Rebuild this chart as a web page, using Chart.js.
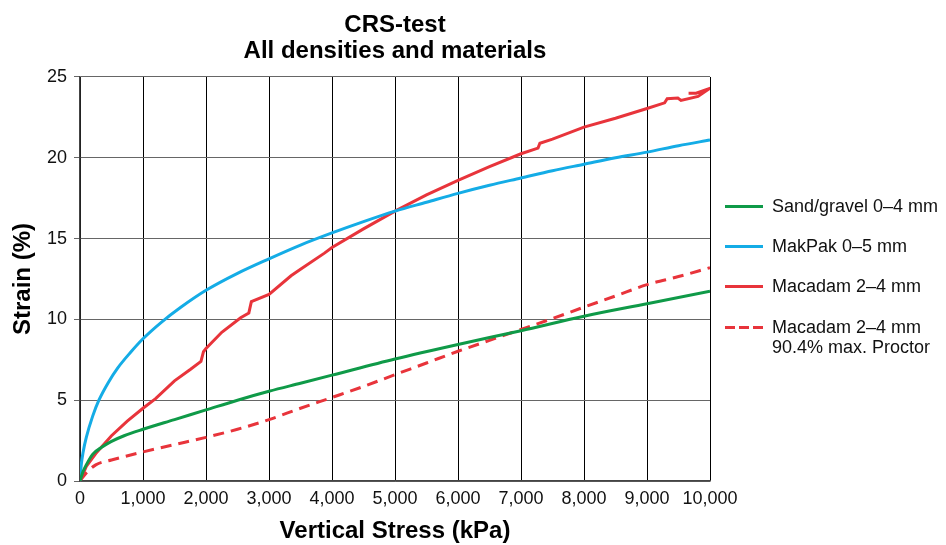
<!DOCTYPE html>
<html>
<head>
<meta charset="utf-8">
<script src="https://cdn.jsdelivr.net/npm/chart.js@4/dist/chart.umd.min.js"></script>
<style>
  html, body { margin: 0; padding: 0; background: #fff; }
  #wrap { position: relative; width: 946px; height: 545px; font-family: "Liberation Sans", Arial, sans-serif; }
  #grafico { position: absolute; left: 0; top: 0; }
  .leyenda-item { position: absolute; left: 725px; display: flex; align-items: flex-start; font-size: 18px; line-height: 20.7px; color: #111; white-space: nowrap; }
  .muestra { width: 38px; height: 3px; margin-top: 9px; margin-right: 9px; flex: none; }
</style>
</head>
<body>
<div id="wrap">
  <canvas id="grafico" width="946" height="545"></canvas>
</div>
<script>
// Datos (tensión vertical kPa -> deformación %)
const arenaStress = [0, 50, 100, 200, 350, 500, 700, 1000, 1500, 2000, 2500, 3000, 3500, 4000, 5000, 6000, 7000, 8000, 9000, 10000]
const arenaStrain = [0, 0.6, 1.0, 1.65, 2.1, 2.45, 2.8, 3.2, 3.8, 4.4, 5.0, 5.55, 6.05, 6.55, 7.55, 8.45, 9.3, 10.2, 10.97, 11.74]

const makpakStress = [0, 20, 50, 100, 200, 300, 450, 600, 800, 1000, 1300, 1600, 2000, 2500, 3000, 3500, 4000, 4500, 5000, 5500, 6000, 6500, 7000, 7500, 8000, 8500, 9000, 9500, 10000]
const makpakStrain = [0, 1.0, 1.8, 2.7, 4.0, 5.0, 6.1, 7.0, 7.95, 8.8, 9.85, 10.75, 11.8, 12.85, 13.75, 14.6, 15.35, 16.05, 16.7, 17.25, 17.8, 18.3, 18.75, 19.2, 19.6, 20.0, 20.35, 20.75, 21.1]

const macadamStress = [0, 100, 250, 500, 750, 1000, 1200, 1500, 1750, 1920, 1960, 2000, 2250, 2550, 2680, 2720, 3000, 3350, 3500, 3880, 4000, 4500, 5000, 5500, 6000, 6500, 7000, 7270, 7300, 7500, 8000, 8500, 9000, 9280, 9320, 9490, 9540, 9810, 10000, 9780, 9660]
const macadamStrain = [0, 0.9, 1.7, 2.8, 3.7, 4.5, 5.1, 6.2, 6.9, 7.4, 8.0, 8.2, 9.2, 10.1, 10.4, 11.1, 11.55, 12.7, 13.1, 14.1, 14.45, 15.6, 16.7, 17.7, 18.6, 19.45, 20.25, 20.6, 20.9, 21.15, 21.9, 22.45, 23.05, 23.4, 23.65, 23.7, 23.55, 23.8, 24.3, 24.0, 24.0]

const proctorStress = [0, 100, 250, 500, 1000, 1500, 2000, 2500, 3000, 3500, 4000, 4500, 5000, 5500, 6000, 6500, 7000, 7500, 8000, 8500, 9000, 9500, 10000]
const proctorStrain = [0, 0.5, 1.0, 1.3, 1.8, 2.25, 2.7, 3.2, 3.8, 4.5, 5.17, 5.85, 6.58, 7.3, 8.03, 8.7, 9.38, 10.05, 10.76, 11.45, 12.15, 12.65, 13.2]

const nombresSeries = ["Sand/gravel 0–4 mm", "MakPak 0–5 mm", "Macadam 2–4 mm", "Macadam 2–4 mm\n90.4% max. Proctor"]

const xTicks = [0, 1000, 2000, 3000, 4000, 5000, 6000, 7000, 8000, 9000, 10000]
const yTicks = [0, 5, 10, 15, 20, 25]

const colores = {
  verde: "#0f9a48",
  azul: "#14ace6",
  rojo: "#e8343b",
}

function puntos(xs, ys) {
  return xs.map((x, i) => ({ x: x, y: ys[i] }))
}

const fuente = '"Liberation Sans", Arial, sans-serif'

const ctx = document.getElementById("grafico").getContext("2d")
const grafico = new Chart(ctx, {
  type: "line",
  data: {
    datasets: [
      {
        label: nombresSeries[0],
        data: puntos(arenaStress, arenaStrain),
        borderColor: colores.verde,
        borderWidth: 3,
        pointRadius: 0,
        cubicInterpolationMode: "monotone",
      },
      {
        label: nombresSeries[1],
        data: puntos(makpakStress, makpakStrain),
        borderColor: colores.azul,
        borderWidth: 3,
        pointRadius: 0,
        cubicInterpolationMode: "monotone",
      },
      {
        label: nombresSeries[2],
        data: puntos(macadamStress, macadamStrain),
        borderColor: colores.rojo,
        borderWidth: 3,
        pointRadius: 0,
        tension: 0,
      },
      {
        label: nombresSeries[3],
        data: puntos(proctorStress, proctorStrain),
        borderColor: colores.rojo,
        borderWidth: 3,
        borderDash: [11, 7],
        pointRadius: 0,
        cubicInterpolationMode: "monotone",
      },
    ],
  },
  options: {
    responsive: false,
    animation: false,
    layout: {
      padding: { left: 0, right: 236, top: 0, bottom: 0 },
    },
    plugins: {
      legend: { display: false },
      tooltip: { enabled: false },
      title: {
        display: true,
        fullSize: false,
        text: ["CRS-test", "All densities and materials"],
        color: "#000",
        font: { family: fuente, size: 24, weight: "bold", lineHeight: 1.083 },
        padding: { top: 12, bottom: 13 },
      },
    },
    scales: {
      x: {
        type: "linear",
        min: 0,
        max: 10000,
        afterBuildTicks: (s) => { s.ticks = xTicks.map((v) => ({ value: v })) },
        afterFit: (s) => { s.height = 64 },
        ticks: {
          color: "#111",
          padding: 7,
          maxRotation: 0,
          font: { family: fuente, size: 18 },
          callback: (v) => v.toLocaleString("en-US"),
        },
        grid: { color: "#000", lineWidth: 1, drawTicks: false },
        border: { color: "#444", width: 1.5 },
        title: {
          display: true,
          text: "Vertical Stress (kPa)",
          color: "#000",
          font: { family: fuente, size: 24, weight: "bold", lineHeight: 1.1 },
          padding: { top: 0, bottom: 0 },
        },
      },
      y: {
        min: 0,
        max: 25,
        afterBuildTicks: (s) => { s.ticks = yTicks.map((v) => ({ value: v })) },
        afterFit: (s) => { s.width = 80 },
        ticks: {
          color: "#111",
          padding: 7,
          font: { family: fuente, size: 18 },
        },
        grid: { color: "#666", lineWidth: 1, tickLength: 6 },
        border: { color: "#444", width: 1.5 },
        title: {
          display: true,
          text: "Strain (%)",
          color: "#000",
          font: { family: fuente, size: 24, weight: "bold" },
          padding: { top: 9, bottom: 0 },
        },
      },
    },
  },
})

// Leyenda en HTML a la derecha del gráfico
const muestras = [
  colores.verde,
  colores.azul,
  colores.rojo,
  "repeating-linear-gradient(to right, " + colores.rojo + " 0 10px, transparent 10px 14px)",
]
const wrap = document.getElementById("wrap")
nombresSeries.forEach((nombre, i) => {
  const item = document.createElement("div")
  item.className = "leyenda-item"
  item.style.top = (196 + i * 40.2) + "px"
  const m = document.createElement("div")
  m.className = "muestra"
  m.style.background = muestras[i]
  const t = document.createElement("div")
  t.innerHTML = nombre.split("\n").join("<br>")
  item.appendChild(m)
  item.appendChild(t)
  wrap.appendChild(item)
})
</script>
</body>
</html>
